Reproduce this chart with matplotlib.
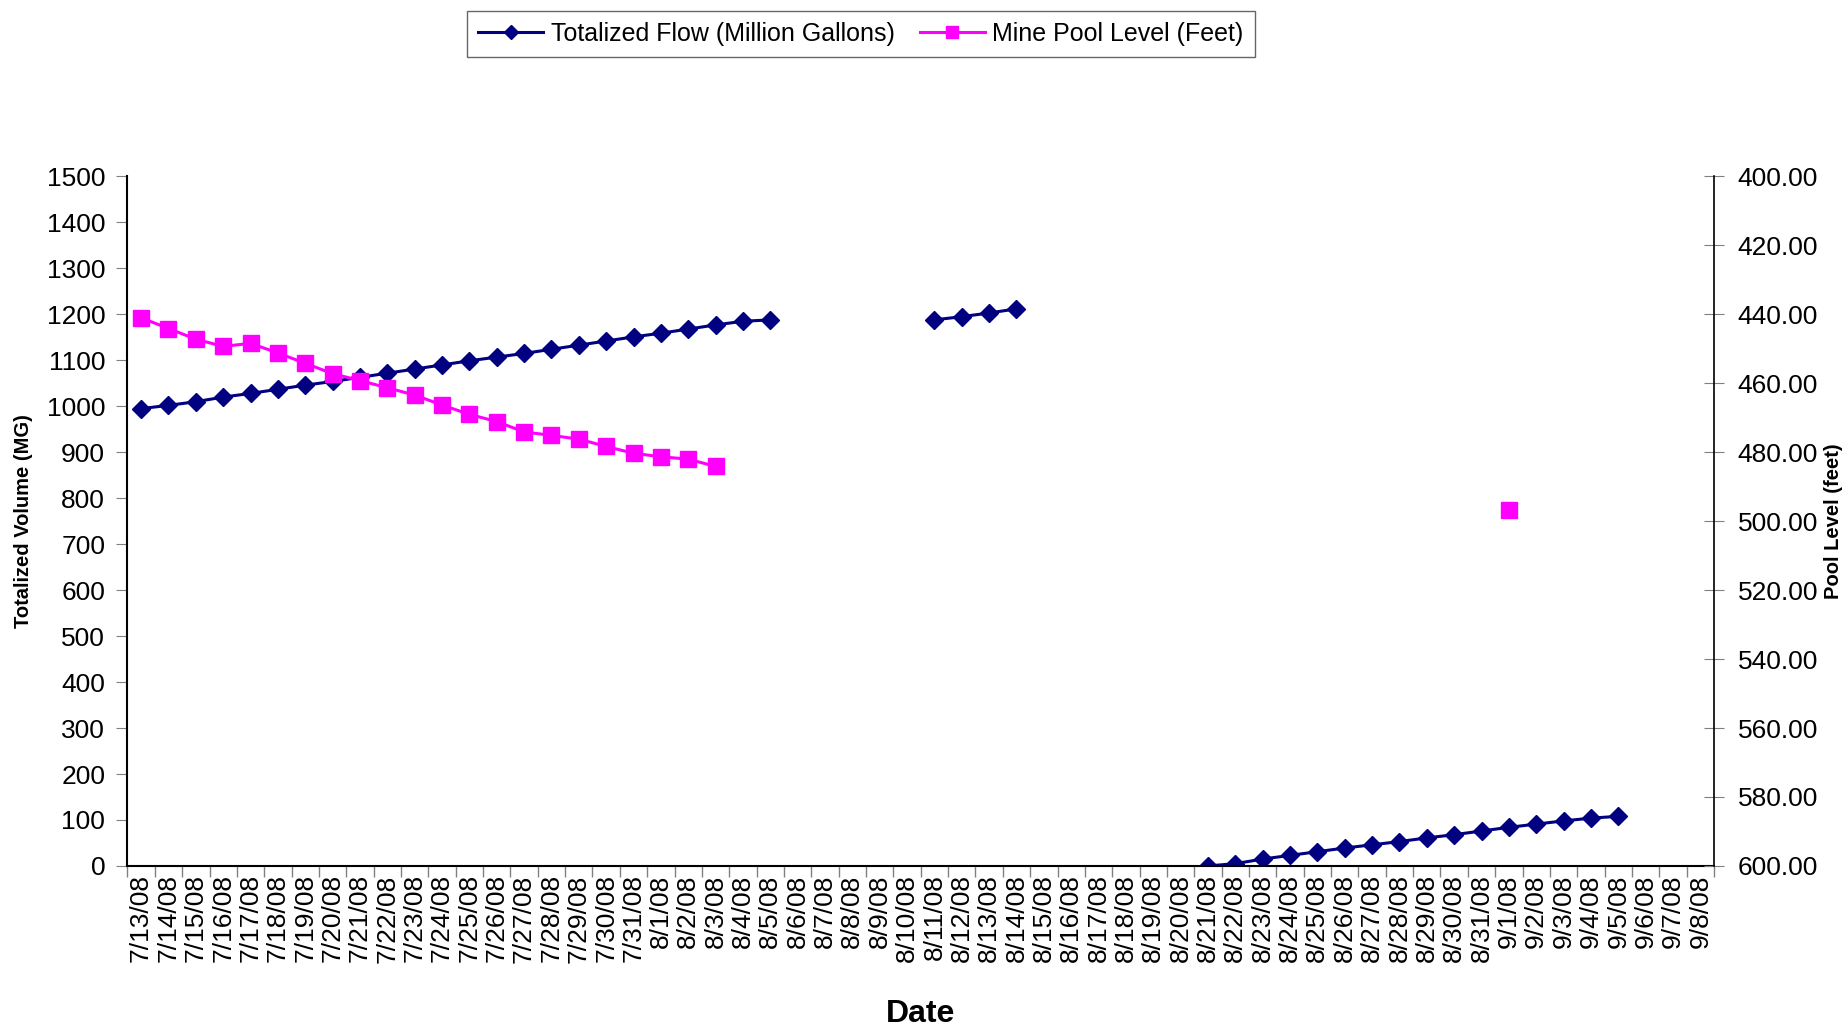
import numpy as np
import matplotlib
matplotlib.use('Agg')
import matplotlib.pyplot as plt
from matplotlib.ticker import FixedLocator, FormatStrFormatter

plt.rcParams['font.family'] = ['Liberation Sans', 'DejaVu Sans']

# dates 7/13/08 .. 9/8/08
dates = ([f'7/{d}/08' for d in range(13, 32)] +
         [f'8/{d}/08' for d in range(1, 32)] +
         [f'9/{d}/08' for d in range(1, 9)])

nan = np.nan
# Totalized Flow (Million Gallons)
flow = ([995, 1002, 1010, 1020, 1028, 1037, 1046, 1054, 1063, 1072, 1081, 1090,
         1099, 1107, 1115, 1124, 1133, 1142, 1151, 1159, 1168, 1177, 1185, 1188] +
        [nan] * 5 +
        [1188, 1195, 1203, 1212] +
        [nan] * 6 +
        [0, 5, 15, 23, 31, 39, 46, 53, 61, 68, 76, 84, 91, 98, 104, 108] +
        [nan] * 3)

# Mine Pool Level (Feet)
pool = ([441.0, 444.1, 447.2, 449.3, 448.4, 451.2, 454.2, 457.2, 459.2, 461.3,
         463.4, 466.3, 469.0, 471.1, 474.1, 475.1, 476.2, 478.3, 480.3, 481.3,
         482.0, 484.1] +
        [nan] * 28 +
        [496.8] +
        [nan] * 7)

x = np.arange(len(dates))

fig = plt.figure(figsize=(18.47, 10.26), dpi=100)
ax = fig.add_axes([0.069, 0.156, 0.859, 0.672])
ax2 = ax.twinx()

l1, = ax.plot(x, flow, color='#000080', lw=2.2, marker='D', ms=9, label='Totalized Flow (Million Gallons)')
l2, = ax2.plot(x, pool, color='#FF00FF', lw=2.2, marker='s', ms=11, label='Mine Pool Level (Feet)')

ax.set_xlim(-0.5, len(dates) - 0.5)
ax.set_ylim(0, 1500)
ax.set_yticks(np.arange(0, 1501, 100))
ax2.set_ylim(600, 400)
ax2.set_yticks(np.arange(400, 601, 20))
ax2.yaxis.set_major_formatter(FormatStrFormatter('%.2f'))

ax.set_xticks(x)
ax.set_xticklabels(dates, rotation=90)
ax.xaxis.set_minor_locator(FixedLocator(np.arange(-0.5, len(dates), 1)))
ax.tick_params(axis='x', which='major', length=0, labelsize=19, pad=6)
ax.tick_params(axis='x', which='minor', length=8, color='#808080', width=1)
ax.tick_params(axis='y', length=8, color='#808080', labelsize=19, pad=8)
ax2.tick_params(axis='y', direction='inout', length=14, color='#808080', labelsize=19, pad=10)

for a in (ax, ax2):
    a.spines['top'].set_visible(False)
ax.spines['right'].set_visible(False)
ax2.spines['left'].set_visible(False)
ax2.spines['bottom'].set_visible(False)
ax2.spines['right'].set_linewidth(1.2)
ax.spines['left'].set_linewidth(1.5)
ax.spines['bottom'].set_linewidth(1.5)

ax.set_xlabel('Date', fontsize=23, fontweight='bold', labelpad=26)
ax.set_ylabel('Totalized Volume (MG)', fontsize=14.5, fontweight='bold', labelpad=10)
ax2.set_ylabel('Pool Level (feet)', fontsize=14.5, fontweight='bold', labelpad=4)

leg = fig.legend(handles=[l1, l2], loc='center', bbox_to_anchor=(0.466, 0.967),
                 ncol=2, fontsize=18, frameon=True, fancybox=False,
                 edgecolor='#404040', handlelength=2.6, handletextpad=0.3,
                 columnspacing=1.0, borderpad=0.45, markerscale=0.8)
leg.get_frame().set_linewidth(1.0)

fig.savefig('out.png', dpi=100)
